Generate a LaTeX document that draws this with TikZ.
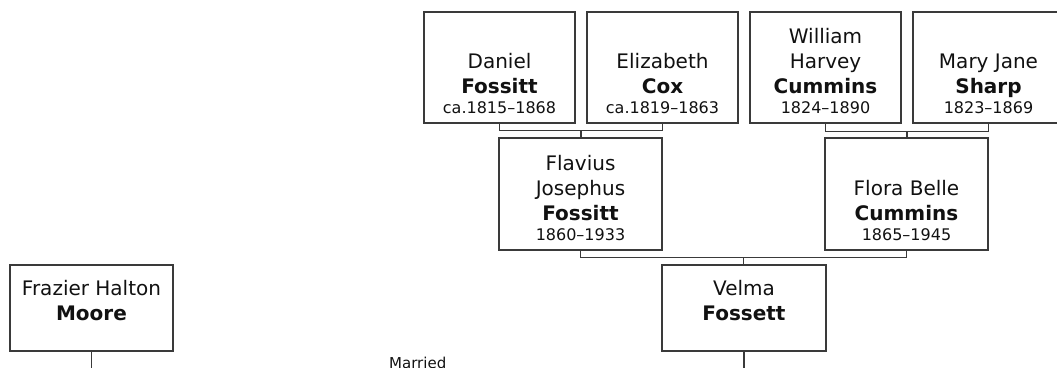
\documentclass[tikz,border=0pt]{standalone}
\usepackage{fontspec}
\setmainfont{DejaVu Sans}
\usetikzlibrary{calc}
\definecolor{linegray}{HTML}{3A3A3A}
\definecolor{textc}{HTML}{111111}
\tikzset{
  personbox/.style={draw=linegray, line width=1.2pt, fill=white, inner sep=0pt, rectangle},
  topbox/.style={personbox, minimum width=151pt, minimum height=111pt},
  midbox/.style={personbox, minimum width=163pt, minimum height=112pt},
  lowbox/.style={personbox, minimum width=164pt, minimum height=86pt},
  nametext/.style={inner sep=0pt, align=center, anchor=south, text=textc, font=\fontsize{20}{25}\selectfont},
  conn/.style={draw=linegray, line width=1.6pt},
  smalltext/.style={inner sep=0pt, text=textc, font=\fontsize{15}{18}\selectfont}
}
\newcommand{\yrs}[1]{{\fontsize{16}{19}\selectfont #1}}
\begin{document}
\begin{tikzpicture}[x=1pt,y=1pt]
\useasboundingbox (0,0) rectangle (1057,-367);
\clip (0,0) rectangle (1057,-367);
% top row
\node[topbox] (daniel) at (499.5,-67.5) {};
\node[topbox] (elizabeth) at (662.5,-67.5) {};
\node[topbox] (william) at (825.5,-67.5) {};
\node[topbox] (mary) at (988.5,-67.5) {};
% middle row
\node[midbox] (flavius) at (580.5,-194) {};
\node[midbox] (flora) at (906.5,-194) {};
% bottom row
\node[lowbox] (velma) at (744,-308) {};
\node[lowbox, minimum width=163pt] (moore) at (91.5,-308) {};
% texts
\node[nametext] (danielt) at ([yshift=10pt]daniel.south) {Daniel\\\textbf{Fossitt}\\[-5pt]\yrs{ca.1815–1868}};
\node[nametext] (elizabetht) at ([yshift=10pt]elizabeth.south) {Elizabeth\\\textbf{Cox}\\[-5pt]\yrs{ca.1819–1863}};
\node[nametext] (williamt) at ([yshift=10pt]william.south) {William\\Harvey\\\textbf{Cummins}\\[-5pt]\yrs{1824–1890}};
\node[nametext] (maryt) at ([yshift=10pt]mary.south) {Mary Jane\\\textbf{Sharp}\\[-5pt]\yrs{1823–1869}};
\node[nametext] (flaviust) at ([yshift=10pt]flavius.south) {Flavius\\Josephus\\\textbf{Fossitt}\\[-5pt]\yrs{1860–1933}};
\node[nametext] (florat) at ([yshift=10pt]flora.south) {Flora Belle\\\textbf{Cummins}\\[-5pt]\yrs{1865–1945}};
\node[nametext] (velmat) at ([yshift=31pt]velma.south) {Velma\\\textbf{Fossett}};
\node[nametext] (mooret) at ([yshift=31pt]moore.south) {Frazier Halton\\\textbf{Moore}};
% connectors
\coordinate (m1) at ($(daniel.south)!0.5!(elizabeth.south)+(0,-7)$);
\draw[conn] (daniel.south) -- ++(0,-7) -| (elizabeth.south);
\draw[conn] (m1) -- (m1 |- flavius.north);
\coordinate (m2) at ($(william.south)!0.5!(mary.south)+(0,-8)$);
\draw[conn] (william.south) -- ++(0,-8) -| (mary.south);
\draw[conn] (m2) -- (m2 |- flora.north);
\coordinate (m3) at ($(flavius.south)!0.5!(flora.south)+(0,-7)$);
\draw[conn] (flavius.south) -- ++(0,-7) -| (flora.south);
\draw[conn] (m3) -- (m3 |- velma.north);
% marriage line (below visible area)
\coordinate (mooreend) at ($(moore.south)+(0,-40)$);
\coordinate (velmaend) at ($(velma.south)+(0,-40)$);
\draw[conn] (moore.south) -- (mooreend);
\draw[conn] (velma.south) -- (velmaend);
\node[smalltext, anchor=base] (married) at ($(mooreend)!0.5!(velmaend)+(0,23)$) {Married};
\end{tikzpicture}
\end{document}
